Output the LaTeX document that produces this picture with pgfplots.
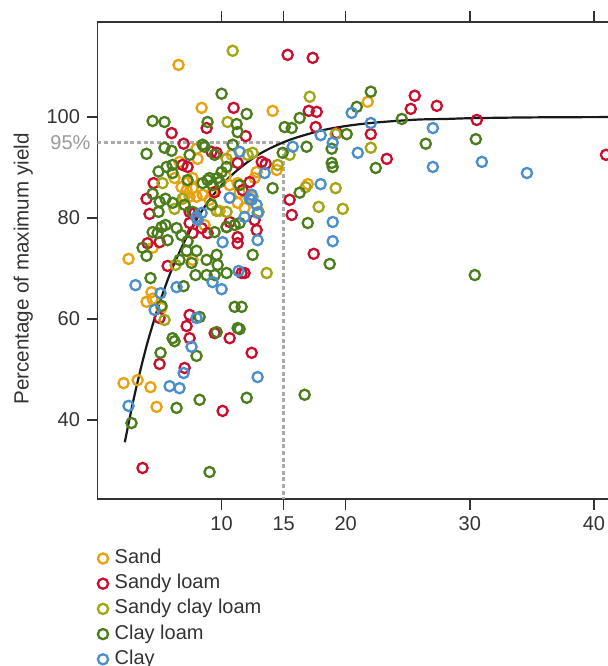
\documentclass[border=0pt]{standalone}
\usepackage{pgfplots}
\pgfplotsset{compat=1.18}
\usepackage{fontspec}
\setmainfont{Liberation Sans}
\definecolor{cSand}{HTML}{E9A20F}
\definecolor{cSL}{HTML}{C8102E}
\definecolor{cSCL}{HTML}{A3A614}
\definecolor{cCL}{HTML}{4B7D1C}
\definecolor{cClay}{HTML}{4A8FCB}
\definecolor{txt}{HTML}{333333}
\definecolor{dotg}{HTML}{AAAAAA}
\definecolor{lab95}{HTML}{9A9A9A}
\begin{document}
\begin{tikzpicture}
\begin{axis}[
  scale only axis, width=255.25pt, height=238.5pt,
  xmin=0, xmax=41.13, ymin=24.36, ymax=118.8,
  axis x line*=box, axis y line*=left, separate axis lines,
  axis line style={txt, line width=0.8pt},
  xtick={10,15,20,30,40}, ytick={40,60,80,100},
  tick align=outside, major tick length=5.25pt,
  tick style={txt, line width=0.7pt},
  every tick label/.append style={font=\fontsize{10}{12}\selectfont, text=txt},
  /pgf/number format/assume math mode=true,
  ylabel={Percentage of maximum yield},
  ylabel style={font=\fontsize{10.3}{12}\selectfont, text=txt, xshift=-4.25pt},
  legend style={at={(0,0)}, anchor=north west, xshift=0pt, yshift=-23.25pt,
    draw=none, fill=none, font=\fontsize{10}{12}\selectfont, text=txt,
    inner sep=0pt, row sep=0pt, column sep=2pt,
    nodes={inner sep=1.3pt, text height=7.5pt, text depth=2.5pt}},
  legend cell align=left,
  legend image code/.code={\draw[#1] plot coordinates {(3pt,0pt)};},
  every axis plot/.append style={mark size=2.55pt},
]
\addplot[dotg, line width=1.65pt, dash pattern=on 2pt off 1.3pt, forget plot] coordinates {(0,95) (15,95) (15,24.36)};
\addplot[only marks, mark=o, color=cSand, mark options={line width=1.15pt}] coordinates {
(6.53,110.3) (8.39,101.8) (14.11,101.2) (21.77,103.0) (7.98,93.7) (8.06,91.7) (6.61,91.1) (6.77,86.1) (7.26,87.1) (7.66,85.9) (7.02,84.2) (7.98,84.2) (9.27,85.0) (9.84,81.4) (10.65,86.5) (11.29,86.9) (11.45,85.0) (12.82,89.1) (14.44,89.5) (12.5,84.2) (8.63,78.6) (8.47,84.6) (9.03,83.6) (16.94,86.7) (2.5,71.9) (4.44,74.1) (4.35,65.3) (3.95,63.4) (4.44,64.0) (5.16,62.2) (2.1,47.3) (3.23,47.9) (4.27,46.5) (4.76,42.6) (7.66,71.7) (6.21,87.9) (10.81,92.5) (10.32,88.3) (11.85,82.0) (11.29,83.0)
(7.66,87.9) (7.18,85.5) (7.42,84.2) (12.66,87.9)
};
\addlegendentry{Sand}
\addplot[only marks, mark=o, color=cSL, mark options={line width=1.15pt}] coordinates {
(15.32,112.3) (17.34,111.7) (10.97,101.8) (5.97,96.8) (6.94,94.7) (8.79,97.8) (11.94,96.2) (9.6,92.9) (13.23,91.1) (13.55,90.7) (15.48,83.6) (15.65,80.6) (7.82,81.0) (7.66,77.0) (10.4,78.2) (11.29,76.2) (12.82,77.6) (3.95,83.8) (4.52,86.9) (7.26,90.1) (11.29,90.9) (9.44,85.1) (12.26,87.1) (25.56,104.2) (25.24,101.6) (27.34,102.2) (30.56,99.4) (17.02,101.2) (17.66,101.0) (17.58,98.0) (19.27,96.8) (22.02,96.6) (23.31,91.7) (40.97,92.5) (17.42,72.9) (11.29,75.0) (11.61,69.1) (11.85,69.1) (9.44,57.2) (10.65,56.2) (5.65,70.5) (7.42,60.8) (7.18,58.6) (7.42,56.2) (5.0,51.1) (7.02,50.3) (12.42,53.3) (10.08,41.8) (3.63,30.5) (5.0,60.2) (4.03,75.0) (5.0,75.2) (8.39,78.0) (7.42,81.2) (8.87,77.0)
(9.19,93.1) (6.85,90.5) (11.69,85.5) (7.42,79.0) (10.65,79.2) (12.66,79.6) (4.19,80.8)
};
\addlegendentry{Sandy loam}
\addplot[only marks, mark=o, color=cSCL, mark options={line width=1.15pt}] coordinates {
(10.89,113.1) (10.48,99.0) (12.1,92.5) (12.5,92.9) (10.4,91.7) (5.24,86.9) (6.85,83.8) (9.6,81.4) (10.4,81.2) (12.98,81.2) (15.48,92.5) (14.52,90.5) (17.1,104.0) (19.19,96.6) (22.02,93.9) (19.19,85.9) (17.82,82.2) (19.76,81.8) (16.77,86.1) (6.29,70.7) (13.63,69.1) (5.4,59.8) (6.21,81.8)
};
\addlegendentry{Sandy clay loam}
\addplot[only marks, mark=o, color=cCL, mark options={line width=1.15pt}] coordinates {
(10.0,104.6) (12.02,100.6) (4.44,99.2) (5.4,99.0) (8.87,99.0) (11.21,98.6) (11.29,97.0) (15.08,98.0) (15.65,97.8) (16.29,99.8) (8.47,94.5) (5.4,93.9) (5.97,93.3) (3.95,92.7) (7.42,92.5) (4.92,89.2) (5.56,90.1) (6.05,88.9) (4.44,84.8) (5.48,83.8) (6.05,83.0) (4.92,81.2) (7.26,87.5) (14.11,85.9) (8.87,87.5) (9.27,86.5) (9.84,87.1) (11.45,86.5) (10.4,90.1) (10.0,89.1) (14.92,92.9) (5.16,78.2) (22.02,105.0) (20.89,102.0) (20.08,96.6) (24.52,99.6) (26.45,94.7) (30.48,95.6) (16.85,94.1) (18.87,93.7) (18.87,90.9) (18.95,90.1) (22.42,89.9) (16.29,85.0) (16.94,79.0) (18.71,70.9) (30.4,68.7) (16.69,45.0) (9.44,77.2) (9.6,72.7) (8.79,71.7) (9.68,70.7) (8.79,68.7) (9.44,68.7) (10.4,69.1) (12.5,72.7) (11.05,62.4) (11.61,62.4) (11.29,58.2) (9.6,57.4) (8.23,60.4) (11.05,78.6) (3.95,72.5) (4.27,68.1) (5.16,62.6) (6.94,66.5) (7.9,68.7) (7.98,52.7) (6.21,55.6) (5.08,53.3) (11.45,58.0) (8.23,44.0) (6.37,42.4) (12.02,44.4) (2.74,39.4) (9.03,29.7) (5.48,78.6) (4.84,77.0) (5.65,75.6) (3.63,74.1) (6.77,76.6) (7.26,75.4) (7.18,73.5) (7.98,73.5) (7.58,71.1) (6.61,71.7) (6.05,56.2)
(8.63,94.1) (9.44,92.5) (10.89,94.5) (6.05,90.5) (5.0,83.2) (7.02,82.6) (9.03,87.9) (9.68,87.9) (8.47,86.9) (9.19,82.6) (7.66,81.2) (10.4,78.2) (11.45,79.0) (6.37,78.0) (4.44,77.2)
};
\addlegendentry{Clay loam}
\addplot[only marks, mark=o, color=cClay, mark options={line width=1.15pt}] coordinates {
(20.48,100.8) (22.02,98.8) (27.02,97.8) (17.98,96.4) (18.95,94.9) (20.97,92.9) (27.02,90.1) (30.97,91.1) (34.6,88.9) (17.98,86.7) (18.95,79.2) (18.95,75.4) (15.73,94.1) (11.45,93.1) (13.47,88.9) (12.26,83.8) (11.85,80.2) (7.98,80.2) (10.08,75.2) (12.9,75.6) (3.06,66.7) (5.08,65.1) (6.37,66.3) (4.6,61.8) (9.27,67.3) (10.0,65.9) (11.37,69.5) (7.98,60.2) (7.58,54.5) (6.94,49.3) (5.81,46.7) (6.61,46.3) (12.9,48.5) (2.5,42.8) (12.9,81.0) (12.42,83.6) (10.65,84.0) (8.39,81.0) (8.06,79.6)
(12.42,84.6) (12.82,82.6)
};
\addlegendentry{Clay}
\addplot[color=black!90, line width=1.1pt, smooth, forget plot] coordinates {
(2.2,35.6) (2.6,40.5) (3,45.1) (3.5,50.3) (4,55.1) (4.5,59.3) (5,63.2) (5.5,66.7) (6,69.9) (7,75.3) (8,79.8) (9,83.5) (10,86.5) (11,88.9) (12,90.9) (13,92.6) (14,93.9) (15,95.0) (16,95.9) (18,97.3) (20,98.2) (22,98.8) (24,99.2) (26,99.5) (28,99.6) (30,99.75) (33,99.86) (36,99.93) (39,99.96) (42,99.98)
};
\coordinate (P95) at (axis cs:0,95);
\end{axis}
\node[anchor=east, text=lab95, font=\fontsize{10}{12}\selectfont] at (P95) {95\%};
\pgfresetboundingbox
\path[use as bounding box] ([xshift=-48.75pt,yshift=-83.5pt]current axis.south west) rectangle ([yshift=11pt]current axis.north east);
\end{tikzpicture}
\end{document}
